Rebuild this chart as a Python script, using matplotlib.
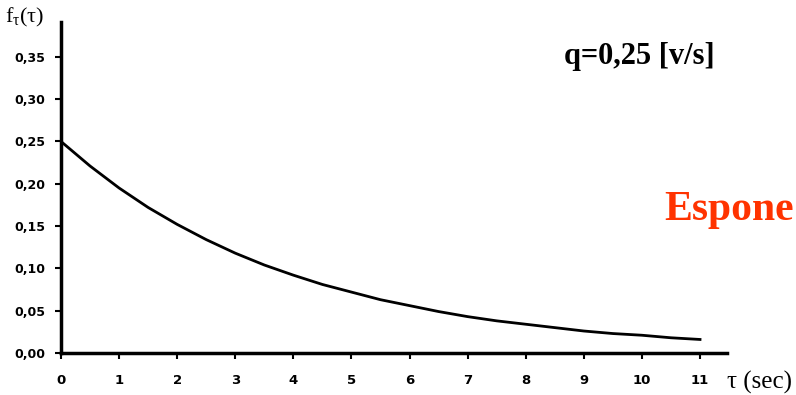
import matplotlib
matplotlib.use("Agg")
import matplotlib.pyplot as plt

plt.rcParams["mathtext.default"] = "regular"

# tempi (sec) e densita
tau = [0, 0.5, 1, 1.5, 2, 2.5, 3, 3.5, 4, 4.5, 5, 5.5, 6, 6.5, 7, 7.5, 8, 8.5, 9, 9.5, 10, 10.5, 11]
f_tau = [0.250, 0.221, 0.195, 0.172, 0.152, 0.134, 0.118, 0.104, 0.092, 0.081, 0.072, 0.063,
         0.056, 0.049, 0.043, 0.038, 0.034, 0.030, 0.026, 0.023, 0.021, 0.018, 0.016]

x_ticks = list(range(0, 12))
y_ticks = [0.00, 0.05, 0.10, 0.15, 0.20, 0.25, 0.30, 0.35]
y_labels = ["0,00", "0,05", "0,10", "0,15", "0,20", "0,25", "0,30", "0,35"]

fig = plt.figure(figsize=(7.96, 3.95), dpi=100)
ax = fig.add_axes([0.0766, 0.1063, 0.8364, 0.8377])

ax.plot(tau, f_tau, color="black", linewidth=2)

ax.set_xlim(0, 11.46)
ax.set_ylim(0, 0.391)
ax.spines["top"].set_visible(False)
ax.spines["right"].set_visible(False)
ax.spines["left"].set_linewidth(2.5)
ax.spines["bottom"].set_linewidth(2.5)

ax.set_xticks(x_ticks)
ax.set_xticklabels([str(t) for t in x_ticks], fontsize=9.5, fontweight="bold")
ax.set_yticks(y_ticks)
ax.set_yticklabels(y_labels, fontsize=9, fontweight="bold")
ax.tick_params(axis="x", direction="out", length=4, width=1.5, pad=11)
ax.tick_params(axis="y", direction="out", length=4, width=1.5, pad=7)

fig.text(0.006, 0.955, "f$_{τ}$(τ)", fontsize=16, family="Liberation Serif", ha="left", va="center")
fig.text(0.913, 0.033, "τ (sec)", fontsize=18, family="Liberation Serif", ha="left", va="center")
fig.text(0.709, 0.858, "q=0,25 [v/s]", fontsize=22, fontweight="bold", family="Liberation Serif", ha="left", va="center")
fig.text(0.834, 0.468, "Espone", fontsize=30, fontweight="bold", color="#ff3300", family="Liberation Serif", ha="left", va="center")

fig.savefig("out.png", dpi=100)
